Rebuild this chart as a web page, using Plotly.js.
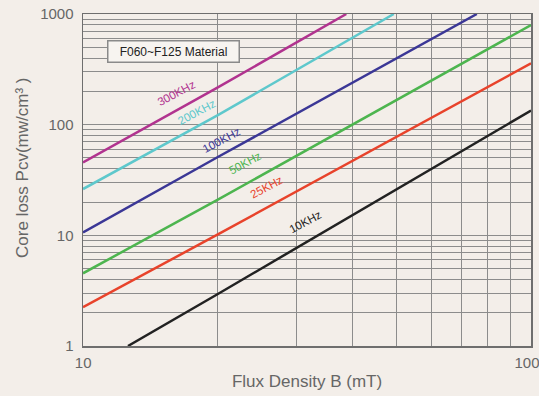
<!DOCTYPE html>
<html>
<head>
<meta charset="utf-8">
<script src="https://cdn.plot.ly/plotly-3.0.1.min.js"></script>
<style>
html,body{margin:0;padding:0;background:#f3eee9;}
#chart{width:539px;height:396px;}
</style>
</head>
<body>
<div id="chart"></div>
<script>
// Series names and colours
const seriesNames = ['10KHz', '25KHz', '50KHz', '100KHz', '200KHz', '300KHz'];
const seriesColors = ['#222222', '#e8432b', '#4db54f', '#3b3796', '#5ec8cc', '#b1338f'];

// Flux density B (mT) for each series
const b10k  = [12.6, 20, 100];
const b25k  = [10, 20, 100];
const b50k  = [10, 20, 100];
const b100k = [10, 20, 75.7];
const b200k = [10, 20, 49.4];
const b300k = [10, 20, 38.7];

// Core loss Pcv (mW/cm3) for each series
const p10k  = [1.0, 2.95, 134];
const p25k  = [2.24, 10.2, 358];
const p50k  = [4.54, 21, 794];
const p100k = [10.6, 51, 1000];
const p200k = [26.2, 122, 1000];
const p300k = [45.6, 217, 1000];

// Axis ticks
const xTickVals = [10, 20, 30, 40, 50, 60, 70, 80, 90, 100];
const xTickText = ['\u00a0\u00a010', '', '', '', '', '', '', '', '', '100'];
const yTickVals = [1,2,3,4,5,6,7,8,9,10,20,30,40,50,60,70,80,90,100,200,300,400,500,600,700,800,900,1000];
const yTickText = yTickVals.map(v => [1,10,100,1000].includes(v) ? String(v) : '');

const xTitle = 'Flux Density B (mT)';
const yTitle = 'Core loss Pcv(mw/cm³ )';

const bSets = [b10k, b25k, b50k, b100k, b200k, b300k];
const pSets = [p10k, p25k, p50k, p100k, p200k, p300k];

const traces = seriesNames.map((n, i) => ({
  x: bSets[i], y: pSets[i], name: n, type: 'scatter', mode: 'lines',
  line: {color: seriesColors[i], width: 2.5}, hoverinfo: 'skip'
}));

// label placements (paper coords), in series order
const labelX = [0.496, 0.410, 0.362, 0.310, 0.254, 0.209];
const labelY = [0.374, 0.480, 0.550, 0.620, 0.706, 0.761];

const annotations = seriesNames.map((n, i) => ({
  text: n, xref: 'paper', yref: 'paper', x: labelX[i], y: labelY[i],
  xanchor: 'center', yanchor: 'middle',
  showarrow: false, textangle: -28,
  font: {family: 'Liberation Sans Narrow, Liberation Sans, Arial', size: 11.5, color: seriesColors[i]}
}));

annotations.push({
  text: 'F060~F125 Material', xref: 'paper', yref: 'paper',
  x: (173 - 83) / 447.7, y: (346 - 52) / 332, xanchor: 'center', yanchor: 'middle',
  showarrow: false,
  width: 128, height: 18, bgcolor: '#f7f4f0', bordercolor: '#8a8a8a', borderwidth: 1.5,
  font: {family: 'Liberation Sans, Arial', size: 12, color: '#222'}
});

// y-axis title (placed as rotated text to match the reference position)
annotations.push({
  text: yTitle, xref: 'paper', yref: 'paper',
  x: (22 - 83) / 447.7, y: (346 - 168) / 332, xanchor: 'center', yanchor: 'middle',
  textangle: -90, showarrow: false,
  font: {family: 'Liberation Sans, Arial', size: 17, color: '#666'}
});

const axisCommon = {
  type: 'log', showgrid: true, gridcolor: '#8c8c8c', gridwidth: 1,
  showline: true, linecolor: '#6e6e6e', linewidth: 1.5, mirror: true,
  zeroline: false, ticks: '', tickmode: 'array', ticklabeloverflow: 'allow',
  tickfont: {family: 'Liberation Sans, Arial', size: 15, color: '#666'},
  fixedrange: true
};

const layout = {
  width: 539, height: 396,
  margin: {l: 83, r: 8, t: 14, b: 50},
  paper_bgcolor: '#f3eee9', plot_bgcolor: '#f3eee9',
  showlegend: false,
  xaxis: Object.assign({}, axisCommon, {
    range: [1, 2], tickvals: xTickVals, ticktext: xTickText, ticklabelstandoff: 2,
    ticklabelshift: -4,
    title: {text: xTitle, standoff: 5,
      font: {family: 'Liberation Sans, Arial', size: 17, color: '#666'}}
  }),
  yaxis: Object.assign({}, axisCommon, {
    range: [0, 3], tickvals: yTickVals, ticktext: yTickText, ticklabelstandoff: 5
  }),
  annotations: annotations
};

Plotly.newPlot('chart', traces, layout, {displayModeBar: false, staticPlot: true});
</script>
</body>
</html>
